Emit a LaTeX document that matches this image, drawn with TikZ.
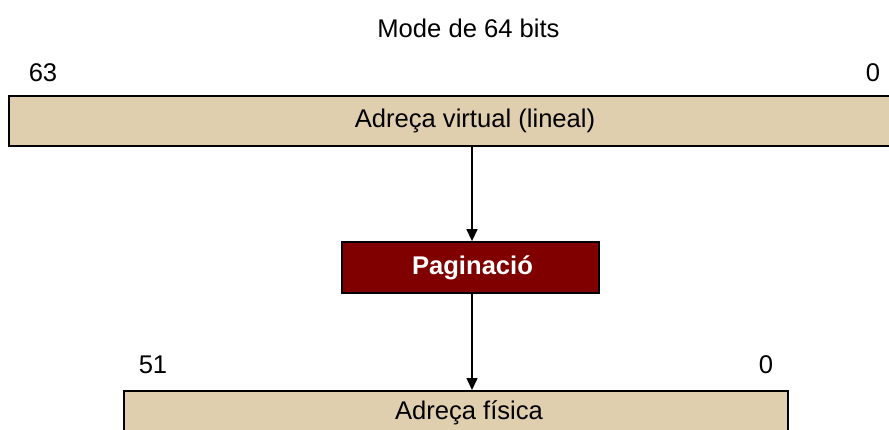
\documentclass[tikz,border=0pt]{standalone}
\usepackage{fontspec}
\setmainfont{Liberation Sans}
\usetikzlibrary{arrows.meta}
\definecolor{beige}{HTML}{E0CFAE}
\definecolor{darkred}{HTML}{800000}
\begin{document}
\begin{tikzpicture}[x=1pt,y=-1pt,
  lbl/.style={font=\fontsize{25.6}{30}\selectfont, inner sep=0pt},
  addrbox/.style={draw=black, line width=1.8pt, fill=beige, inner sep=0pt},
  pagbox/.style={draw=black, line width=1.8pt, fill=darkred, text=white, inner sep=0pt, font=\fontsize{25.6}{30}\selectfont\bfseries},
  conn/.style={line width=1.5pt, -{Triangle[length=12pt,width=11pt]}}]
\useasboundingbox (0,0) rectangle (889,430);
\clip (0,0) rectangle (889,430);
\node[lbl] (title) at (468.5,28) {Mode de 64 bits};
\node[lbl] (b63) at (43,73) {63};
\node[lbl] (b0a) at (873,73) {0};
\node[addrbox, minimum width=887pt, minimum height=50pt, anchor=north west] (virt) at (8,95) {};
\node[lbl] (virtt) at (475,121) {Adreça virtual (lineal)};
\node[pagbox, minimum width=257pt, minimum height=51pt] (pag) at (470.5,267.5) {};
\node[pagbox, draw=none, fill=none] (pagt) at (472.5,268) {Paginació};
\node[lbl] (b51) at (153,365) {51};
\node[lbl] (b0b) at (766,365) {0};
\node[addrbox, minimum width=664pt, minimum height=50pt, anchor=north west] (fis) at (123,390) {};
\node[lbl] (fist) at (469,413) {Adreça física};
\coordinate (vs) at (472,145);
\coordinate (ps) at (472,242);
\coordinate (pb) at (472,293);
\coordinate (fs) at (472,390);
\draw[conn] (virt.south -| vs) -- (pag.north -| ps);
\draw[conn] (pag.south -| pb) -- (fis.north -| fs);
\end{tikzpicture}
\end{document}
